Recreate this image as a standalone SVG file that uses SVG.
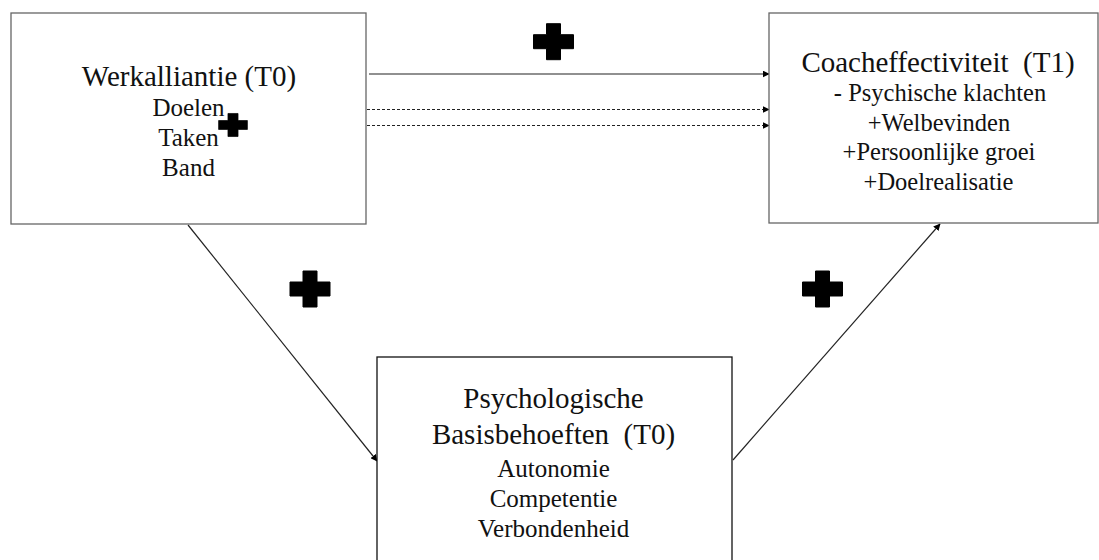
<svg xmlns="http://www.w3.org/2000/svg" xmlns:xlink="http://www.w3.org/1999/xlink" width="1099" height="560" viewBox="0 0 1099 560">
<style>
.box{fill:#fff;stroke:#666;stroke-width:1.3}
.box3{fill:#fff;stroke:#111;stroke-width:1.3}
.t{font-family:"Liberation Serif","Times New Roman",serif;fill:#111;text-anchor:middle}
.title{font-size:29px}
.sub{font-size:25px}
.sub2{font-size:24.5px}
.ln{stroke:#222;stroke-width:1.2;fill:none;marker-end:url(#ah)}
.dash{stroke-dasharray:3 2}
.plus{fill:#000}
</style>
<defs>
<marker id="ah" viewBox="0 0 10 10" refX="9" refY="5" markerWidth="7" markerHeight="7" markerUnits="userSpaceOnUse" orient="auto">
<path d="M0,0 L10,5 L0,10 Z" fill="#000"/>
</marker>
<path id="plusShape" d="M-7,-18 H7 V-7 H20 V7 H7 V18 H-7 V7 H-20 V-7 H-7 Z" stroke="#000" stroke-width="1" stroke-linejoin="round"/>
</defs>
<rect width="1099" height="560" fill="#fff"/>
<g id="connectors">
<line class="ln" x1="369" y1="74" x2="769" y2="74"/>
<line class="ln dash" x1="252" y1="109.5" x2="769" y2="109.5"/>
<line class="ln dash" x1="252" y1="125.5" x2="769" y2="125.5"/>
<line class="ln" x1="188" y1="225" x2="377" y2="461"/>
<line class="ln" x1="733" y1="460" x2="940" y2="224"/>
</g>
<g id="node-werkalliantie">
<rect class="box" x="11" y="13" width="355" height="211"/>
<text class="t title" x="189" y="85.5">Werkalliantie (T0)</text>
<text class="t sub" x="188.5" y="116">Doelen</text>
<text class="t sub" x="188.5" y="146">Taken</text>
<text class="t sub" x="188.5" y="176">Band</text>
</g>
<g id="node-coacheffectiviteit">
<rect class="box" x="769" y="13" width="329" height="210"/>
<text class="t title" x="938" y="72" xml:space="preserve">Coacheffectiviteit  (T1)</text>
<text class="t sub2" x="940" y="101">- Psychische klachten</text>
<text class="t sub2" x="939" y="130.5">+Welbevinden</text>
<text class="t sub2" x="939" y="160">+Persoonlijke groei</text>
<text class="t sub2" x="938.5" y="189.5">+Doelrealisatie</text>
</g>
<g id="node-basisbehoeften">
<rect class="box3" x="377" y="357" width="355" height="220"/>
<text class="t title" x="553.5" y="408">Psychologische</text>
<text class="t title" x="553.5" y="444" xml:space="preserve">Basisbehoeften  (T0)</text>
<text class="t sub" x="553.5" y="476.5">Autonomie</text>
<text class="t sub" x="553.5" y="506.5">Competentie</text>
<text class="t sub" x="553.5" y="536.5">Verbondenheid</text>
</g>
<g id="plus-signs" class="plus">
<use xlink:href="#plusShape" transform="translate(553.5,41.7)"/>
<use xlink:href="#plusShape" transform="translate(233,125) scale(0.72,0.64)"/>
<use xlink:href="#plusShape" transform="translate(310,289)"/>
<use xlink:href="#plusShape" transform="translate(822.5,289)"/>
</g>
</svg>
